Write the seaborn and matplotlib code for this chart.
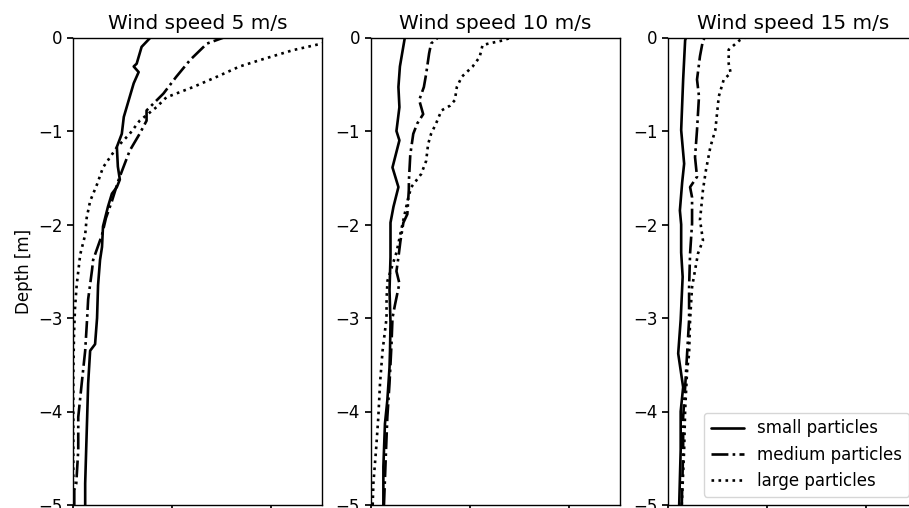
import matplotlib
matplotlib.use("Agg")
import matplotlib.pyplot as plt
import pandas as pd
import seaborn as sns

panel_titles = ["Wind speed 5 m/s", "Wind speed 10 m/s", "Wind speed 15 m/s"]
size_labels = ["small particles", "medium particles", "large particles"]
y_ticks = [0, -1, -2, -3, -4, -5]
x_ticks = [0, 1, 2]

# ---- Wind speed 5 m/s ----
w5_small_depth = [0, -0.1, -0.28, -0.31, -0.37, -0.49, -0.67, -0.85, -1.03, -1.17, -1.38, -1.52,
                  -1.6, -1.67, -1.81, -2.02, -2.24, -2.38, -2.65, -3.0, -3.28, -3.35, -3.7, -4.06,
                  -4.41, -4.77, -5.0]
w5_small_value = [0.78, 0.69, 0.64, 0.61, 0.66, 0.61, 0.56, 0.51, 0.49, 0.44, 0.45, 0.47,
                  0.44, 0.39, 0.35, 0.30, 0.29, 0.27, 0.25, 0.24, 0.22, 0.17, 0.15, 0.14,
                  0.13, 0.12, 0.12]
w5_medium_depth = [0, -0.065, -0.24, -0.42, -0.6, -0.78, -0.89, -1.03, -1.21, -1.39, -1.53, -1.75,
                   -1.93, -2.11, -2.32, -2.38, -2.48, -2.8, -3.0, -3.35, -3.7, -4.06, -4.41, -4.77,
                   -4.84, -5.0]
w5_medium_value = [1.52, 1.35, 1.18, 1.04, 0.91, 0.74, 0.74, 0.67, 0.57, 0.505, 0.455, 0.39,
                   0.33, 0.29, 0.22, 0.20, 0.19, 0.15, 0.14, 0.12, 0.085, 0.05, 0.05, 0.03,
                   0.01, 0.01]
w5_large_depth = [0, -0.065, -0.135, -0.24, -0.31, -0.42, -0.53, -0.64, -0.745, -0.89, -1.03,
                  -1.175, -1.39, -1.57, -1.75, -1.93, -2.11, -2.32, -2.65, -2.9, -3.18, -3.6,
                  -4.3, -5.0]
w5_large_value = [2.75, 2.51, 2.22, 1.89, 1.68, 1.45, 1.21, 0.94, 0.84, 0.67, 0.57,
                  0.44, 0.30, 0.24, 0.17, 0.135, 0.12, 0.07, 0.034, 0.017, 0.007, 0.0,
                  0.0, 0.0]

# ---- Wind speed 10 m/s ----
w10_small_depth = [0, -0.31, -0.53, -0.745, -1.0, -1.1, -1.39, -1.6, -1.81, -1.98, -2.35, -2.7,
                   -3.05, -3.35, -3.53, -3.88, -4.13, -4.59, -5.0]
w10_small_value = [0.345, 0.295, 0.28, 0.29, 0.26, 0.29, 0.22, 0.28, 0.23, 0.20, 0.20, 0.19,
                   0.20, 0.195, 0.19, 0.168, 0.144, 0.128, 0.128]
w10_medium_depth = [0, -0.065, -0.17, -0.39, -0.53, -0.67, -0.82, -0.92, -1.03, -1.25, -1.53,
                    -1.63, -1.89, -1.98, -2.18, -2.35, -2.5, -2.63, -2.86, -3.0, -3.28, -3.7,
                    -4.06, -4.41, -5.0]
w10_medium_value = [0.68, 0.61, 0.59, 0.56, 0.537, 0.49, 0.53, 0.47, 0.43, 0.40, 0.386,
                    0.385, 0.37, 0.33, 0.30, 0.28, 0.26, 0.29, 0.245, 0.22, 0.21, 0.19,
                    0.168, 0.155, 0.134]
w10_large_depth = [0, -0.03, -0.08, -0.21, -0.31, -0.42, -0.53, -0.67, -0.73, -0.78, -0.92, -1.03,
                   -1.14, -1.32, -1.46, -1.6, -1.71, -2.0, -2.3, -2.5, -2.6, -2.8, -3.0, -3.35,
                   -3.7, -4.06, -4.41, -4.77, -5.0]
w10_large_value = [1.42, 1.34, 1.13, 1.10, 1.03, 0.92, 0.87, 0.85, 0.80, 0.715, 0.66, 0.61,
                   0.58, 0.56, 0.51, 0.41, 0.38, 0.32, 0.26, 0.20, 0.17, 0.16, 0.16, 0.12,
                   0.094, 0.077, 0.054, 0.027, 0.02]

# ---- Wind speed 15 m/s ----
w15_small_depth = [0, -0.03, -0.45, -0.99, -1.35, -1.55, -1.85, -2.0, -2.3, -2.56, -3.02, -3.38,
                   -3.74, -4.0, -4.41, -5.0]
w15_small_value = [0.18, 0.17, 0.15, 0.13, 0.16, 0.14, 0.117, 0.13, 0.13, 0.145, 0.125, 0.10,
                   0.15, 0.125, 0.125, 0.11]
w15_medium_depth = [0, -0.03, -0.2, -0.45, -0.63, -0.99, -1.28, -1.49, -1.6, -1.71, -1.99, -2.31,
                    -2.67, -3.02, -3.38, -3.74, -4.06, -4.41, -5.0]
w15_medium_value = [0.37, 0.35, 0.32, 0.29, 0.31, 0.29, 0.27, 0.29, 0.22, 0.24, 0.24, 0.22,
                    0.21, 0.21, 0.19, 0.17, 0.15, 0.15, 0.136]
w15_large_depth = [0, -0.03, -0.13, -0.28, -0.38, -0.45, -0.63, -0.99, -1.17, -1.42, -1.63, -1.85,
                   -1.95, -2.17, -2.31, -2.49, -2.67, -3.02, -3.38, -3.56, -3.99, -4.41, -5.0]
w15_large_value = [0.78, 0.72, 0.61, 0.61, 0.63, 0.56, 0.51, 0.475, 0.425, 0.38, 0.35, 0.33,
                   0.32, 0.35, 0.30, 0.27, 0.24, 0.22, 0.21, 0.19, 0.17, 0.16, 0.136]

panels = [
    [(w5_small_depth, w5_small_value), (w5_medium_depth, w5_medium_value), (w5_large_depth, w5_large_value)],
    [(w10_small_depth, w10_small_value), (w10_medium_depth, w10_medium_value), (w10_large_depth, w10_large_value)],
    [(w15_small_depth, w15_small_value), (w15_medium_depth, w15_medium_value), (w15_large_depth, w15_large_value)],
]

sns.set_theme(style="ticks")
plt.rcParams.update({
    "font.family": ["DejaVu Sans"],
    "font.size": 12,
    "axes.titlesize": 14.4,
    "axes.labelsize": 12,
    "xtick.labelsize": 12,
    "ytick.labelsize": 12,
    "axes.edgecolor": "black",
    "axes.linewidth": 1.0,
    "xtick.color": "black",
    "ytick.color": "black",
    "text.color": "black",
    "axes.labelcolor": "black",
    "xtick.major.size": 4.2,
    "ytick.major.size": 4.2,
})

styles = ["-", "-.", ":"]

fig = plt.figure(figsize=(9.09, 5.08), dpi=100)
bottom = 3 / 508
height = (505 - 37.5) / 508
width = 249 / 909
lefts = [73.3 / 909, 370.7 / 909, 668.3 / 909]

for i, (title, series) in enumerate(zip(panel_titles, panels)):
    ax = fig.add_axes([lefts[i], bottom, width, height])
    for (depth, value), lab, ls in zip(series, size_labels, styles):
        df = pd.DataFrame({"value": value, "depth": depth})
        sns.lineplot(data=df, x="value", y="depth", orient="y", sort=True,
                     errorbar=None, color="black", linestyle=ls, linewidth=1.9,
                     label=lab, ax=ax, legend=False)
    ax.set_xlim(0, 2.515)
    ax.set_ylim(-5, 0)
    ax.set_xticks(x_ticks)
    ax.tick_params(axis="x", labelbottom=False)
    ax.set_yticks(y_ticks)
    ax.set_title(title, pad=6)
    ax.set_xlabel("")
    ax.set_ylabel("Depth [m]" if i == 0 else "")
    if i == 2:
        ax.legend(loc="lower right", fontsize=12, frameon=True, edgecolor="0.8",
                  fancybox=True, framealpha=0.8)
    else:
        leg = ax.get_legend()
        if leg is not None:
            leg.remove()

fig.savefig("out.png", dpi=100)
